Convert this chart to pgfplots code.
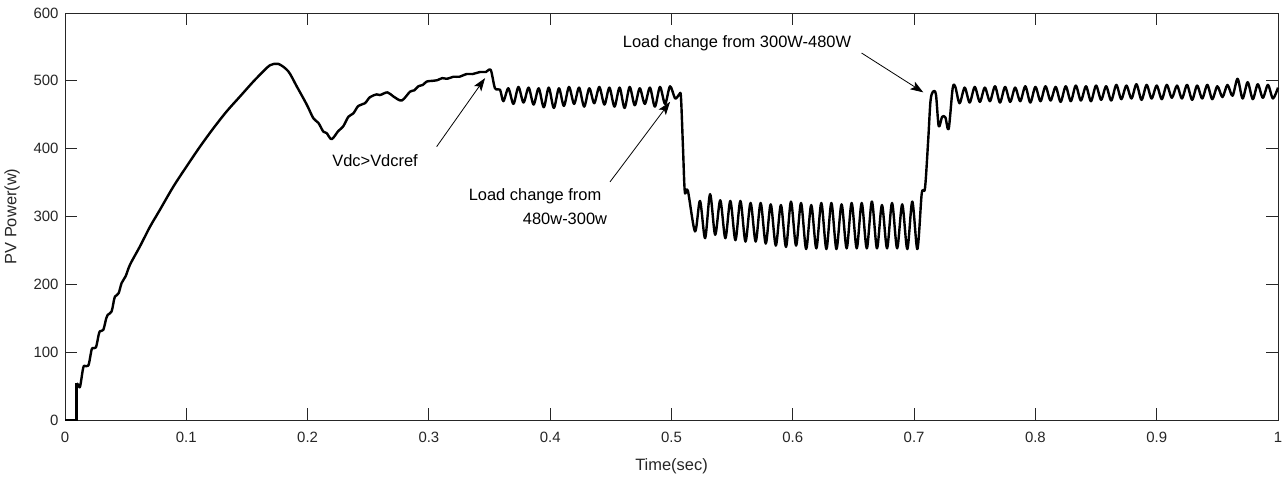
\documentclass[border=0pt]{standalone}
\usepackage{fontspec}
\setmainfont{Liberation Sans}
\usepackage{pgfplots}
\pgfplotsset{compat=1.18}
\usetikzlibrary{arrows.meta}
\definecolor{axgray}{HTML}{262626}
\newcommand{\tickfont}{\fontsize{15}{18}\selectfont}
\newcommand{\labfont}{\fontsize{16.5}{19}\selectfont}
\begin{document}
\begin{tikzpicture}
\begin{axis}[
  at={(0,0)}, anchor=south west,
  scale only axis, width=1213bp, height=407bp,
  xmin=0, xmax=1, ymin=0, ymax=600,
  xtick={0,0.1,0.2,0.3,0.4,0.5,0.6,0.7,0.8,0.9,1},
  ytick={0,100,200,300,400,500,600},
  tick align=inside,
  major tick length=12bp,
  axis line style={color=axgray, line width=1bp},
  every tick/.style={color=axgray, line width=1bp},
  tick label style={font=\tickfont, color=axgray},
  /pgf/number format/assume math mode=true,
  xticklabel style={yshift=-9bp},
  yticklabel style={xshift=-3bp},
  clip=false,
]
% initial step
\addplot[black, line width=2.4bp] coordinates {(0,0) (0.0096,0) (0.0096,54)};
% main trace
\addplot[black, line width=2.4bp, smooth, line join=round] table {
t v
0.0096 54
0.0108 52
0.0124 49
0.0145 72
0.0157 80
0.0192 80
0.0215 100
0.0225 106
0.0255 107
0.0278 126
0.0289 131
0.0316 133
0.0340 150
0.0352 155
0.0384 160
0.0405 178
0.0412 182
0.0442 187
0.0467 202
0.0500 212
0.0536 229
0.0618 256
0.0701 285
0.0783 310
0.0893 344
0.1003 374
0.1113 403
0.1223 430
0.1333 455
0.1443 477
0.1553 499
0.1635 514
0.1690 523
0.1759 525
0.1841 514
0.1910 492
0.1993 465
0.2047 445
0.2089 438
0.2130 425
0.2157 423
0.2198 414
0.2253 426
0.2294 433
0.2336 447
0.2377 452
0.2418 463
0.2473 467
0.2514 476
0.2570 480
0.2597 479
0.2658 483
0.2707 477
0.2776 471
0.2844 484
0.2880 486
0.2913 492
0.2950 494
0.2982 499
0.3030 500
0.3070 501
0.3110 504
0.3150 503
0.3201 506
0.3250 506
0.3311 510
0.3360 510
0.3421 513
0.3470 513
0.3510 516
0.3545 489
0.3586 487
0.3614 470
0.3655 489
0.3697 466
0.3738 491
0.3780 468
0.3822 490
0.3863 465
0.3905 489
0.3947 461
0.3988 490
0.4030 460
0.4072 489
0.4113 463
0.4155 491
0.4197 466
0.4238 490
0.4280 462
0.4322 489
0.4363 467
0.4405 491
0.4447 465
0.4488 490
0.4530 462
0.4572 490
0.4613 460
0.4655 491
0.4697 464
0.4738 489
0.4780 466
0.4822 490
0.4863 462
0.4905 491
0.4947 466
0.4988 492
0.5030 474
0.5064 480
0.5078 476
0.5095 400
0.5110 336
0.5135 338
0.5194 278
0.5235 323
0.5277 268
0.5318 333
0.5360 273
0.5402 324
0.5444 268
0.5485 323
0.5527 265
0.5568 323
0.5610 263
0.5652 320
0.5694 263
0.5735 320
0.5777 260
0.5818 318
0.5860 257
0.5902 317
0.5944 255
0.5985 322
0.6027 257
0.6068 320
0.6110 252
0.6152 317
0.6194 253
0.6235 320
0.6277 252
0.6318 320
0.6360 252
0.6402 318
0.6444 253
0.6485 320
0.6527 253
0.6568 320
0.6610 253
0.6652 322
0.6694 253
0.6735 317
0.6777 253
0.6818 320
0.6860 253
0.6902 318
0.6944 252
0.6985 322
0.7027 252
0.7063 334
0.7090 342
0.7117 415
0.7135 470
0.7155 484
0.7180 480
0.7203 433
0.7231 447
0.7258 446
0.7285 429
0.7318 489
0.7340 491
0.7375 467
0.7417 490
0.7458 468
0.7500 491
0.7542 469
0.7583 490
0.7625 470
0.7667 492
0.7708 468
0.7750 491
0.7792 469
0.7833 490
0.7875 470
0.7917 492
0.7958 468
0.8000 491
0.8042 470
0.8083 492
0.8125 471
0.8167 491
0.8208 469
0.8250 492
0.8292 470
0.8333 493
0.8375 471
0.8417 492
0.8458 470
0.8500 493
0.8542 472
0.8583 492
0.8625 471
0.8667 494
0.8708 473
0.8750 493
0.8792 474
0.8833 495
0.8875 472
0.8917 494
0.8958 474
0.9000 493
0.9042 473
0.9083 494
0.9125 475
0.9167 493
0.9208 474
0.9250 494
0.9292 472
0.9333 493
0.9375 474
0.9417 494
0.9458 473
0.9500 492
0.9542 476
0.9583 494
0.9625 478
0.9667 503
0.9708 474
0.9750 498
0.9792 473
0.9833 495
0.9875 475
0.9917 494
0.9958 474
1.0000 490
};
% annotations
\draw[-{Stealth[length=13bp,width=9bp,inset=3bp]}, line width=0.8bp] (axis cs:0.3064,403) -- (axis cs:0.3463,504);
\node[font=\labfont] at (axis cs:0.2556,382) {Vdc>Vdcref};
\draw[-{Stealth[length=13bp,width=9bp,inset=3bp]}, line width=0.8bp] (axis cs:0.4493,351) -- (axis cs:0.4988,469);
\node[font=\labfont] at (axis cs:0.3875,330) {Load change from};
\node[font=\labfont] at (axis cs:0.4122,296) {480w-300w};
\draw[-{Stealth[length=13bp,width=9bp,inset=3bp]}, line width=0.8bp] (axis cs:0.6567,541) -- (axis cs:0.7076,483);
\node[font=\labfont] at (axis cs:0.554,556) {Load change from 300W-480W};
\end{axis}
\node[font=\labfont, color=axgray] at (606.5bp,-46bp) {Time(sec)};
\node[font=\labfont, color=axgray, rotate=90] at (-53bp,203.5bp) {PV Power(w)};
\pgfresetboundingbox
\path[use as bounding box] (-65bp,-59bp) rectangle (1222bp,420bp);
\end{tikzpicture}
\end{document}
